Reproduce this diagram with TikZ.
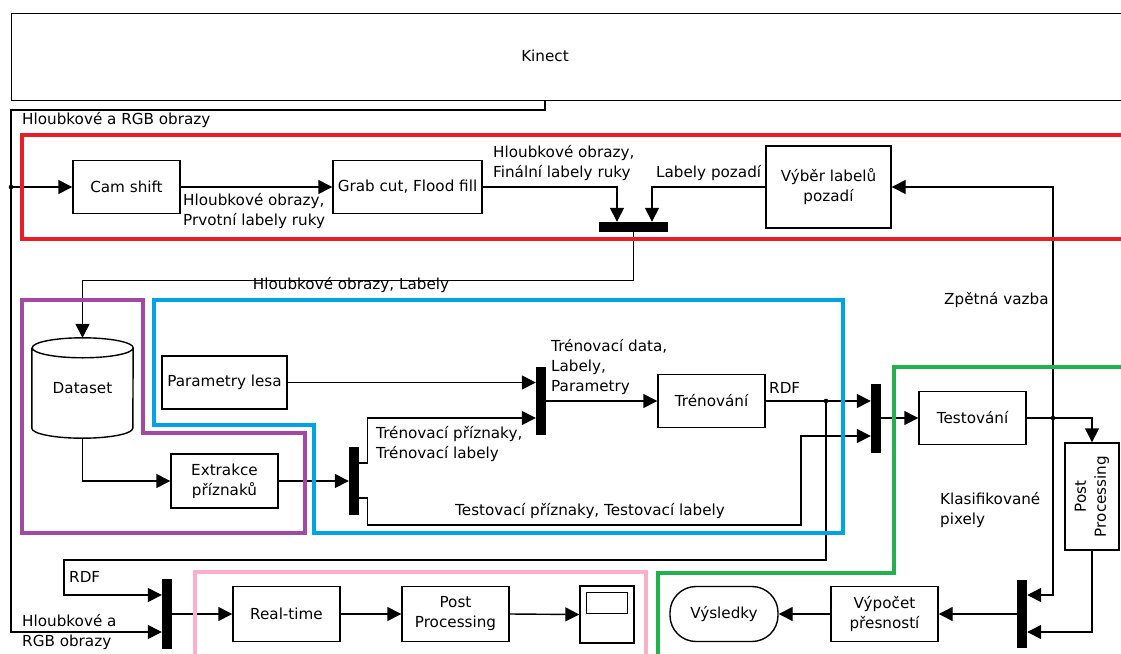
\documentclass[tikz,border=0pt]{standalone}
\usepackage{fontspec}
\setmainfont{DejaVu Sans}
\usetikzlibrary{arrows.meta}
\definecolor{cred}{RGB}{237,28,36}
\definecolor{cpurple}{RGB}{163,73,164}
\definecolor{cblue}{RGB}{0,162,232}
\definecolor{cgreen}{RGB}{34,177,76}
\definecolor{cpink}{RGB}{255,174,201}
\begin{document}
\begin{tikzpicture}[x=1pt,y=-1pt,
  every node/.style={font=\fontsize{15.2}{20}\selectfont, inner sep=0pt},
  box/.style={draw, line width=1.4pt, align=center},
  bar/.style={fill=black, inner sep=0pt},
  conn/.style={line width=1.4pt},
  arr/.style={-{Triangle[length=14pt,width=14pt]}},
  lbl/.style={anchor=west, align=left},
  frame/.style={line width=4pt}]
\useasboundingbox (0,0) rectangle (1121,653);

% ---------- nodes ----------
\node[box, minimum width=1124pt, minimum height=87pt, anchor=north west] (kinect) at (11,13) {};
\node (kinecttxt) at (545,56) {Kinect};
\coordinate (ktap) at (545,100);

\node[box, minimum width=107pt, minimum height=53pt] (camshift) at (126.5,187) {Cam shift};
\node[box, minimum width=149pt, minimum height=53pt] (grabcut) at (407.5,187) {Grab cut, Flood fill};
\node[box, minimum width=125pt, minimum height=82pt] (vyber) at (828.5,187) {Výběr labelů\\pozadí};
\node[bar, minimum width=69pt, minimum height=10pt] (barA) at (633.5,227) {};

\node[minimum width=101pt, minimum height=100pt] (dataset) at (82.5,388) {Dataset};
\node[box, minimum width=125pt, minimum height=53pt] (param) at (224.5,382.5) {Parametry lesa};
\node[bar, minimum width=10pt, minimum height=68pt] (bar1) at (541,401) {};
\node[box, minimum width=107pt, minimum height=53pt] (trenovani) at (711.5,401) {Trénování};
\node[bar, minimum width=10pt, minimum height=68pt] (bar2) at (354,481) {};
\node[box, minimum width=107pt, minimum height=54pt] (extrakce) at (224.5,481) {Extrakce\\příznaků};
\node[bar, minimum width=10pt, minimum height=69pt] (bar3) at (876,418) {};
\node[box, minimum width=107pt, minimum height=53pt] (testovani) at (972.5,418) {Testování};
\node[box, minimum width=54pt, minimum height=107pt] (postproc2) at (1092,496.5) {};
\node[rotate=90, align=center] (pptext) at (postproc2.center) {Post\\Processing};
\node[bar, minimum width=10pt, minimum height=68pt] (bar4) at (1022,614) {};
\node[box, minimum width=107pt, minimum height=55pt] (vypocet) at (884.5,614) {Výpočet\\přesností};
\node[box, rounded corners=26pt, minimum width=108pt, minimum height=55pt] (vysledky) at (724,614) {Výsledky};
\node[box, minimum width=54pt, minimum height=57pt] (scope) at (607,614.5) {};
\node[box, minimum width=107pt, minimum height=55pt] (postproc1) at (455.5,614) {Post\\Processing};
\node[box, minimum width=107pt, minimum height=55pt] (realtime) at (286.5,614) {Real-time};
\node[bar, minimum width=10pt, minimum height=70pt] (bar5) at (167,614) {};

% dataset cylinder
\draw[line width=1.4pt] ([yshift=-10pt]dataset.north west) -- ([yshift=10pt]dataset.south west)
  arc[start angle=180,end angle=360,x radius=50.5pt,y radius=10pt]
  -- ([yshift=-10pt]dataset.north east)
  arc[start angle=0,end angle=180,x radius=50.5pt,y radius=10pt]
  arc[start angle=180,end angle=360,x radius=50.5pt,y radius=10pt];
% scope screen
\draw[line width=1.4pt] ([shift={(7pt,-7pt)}]scope.north west) rectangle ([shift={(-7pt,-28pt)}]scope.north east);

% ---------- coordinates ----------
\coordinate (trunkbot) at (11,632);
\coordinate (jcam) at (11,187);
\coordinate (jfb) at (1053,418);
\coordinate (jrdf) at (826,401);
\coordinate (rdfcorner) at (64,560);
\coordinate (testcorner) at (801,525);

% ---------- connectors ----------
\draw[conn,arr] (ktap) -- (545,110) -| (trunkbot) -- (trunkbot -| bar5.west);
\fill (jcam) circle[radius=2.3pt];
\draw[conn,arr] (jcam) -- (camshift.west);
\draw[conn,arr] (camshift.east) -- (grabcut.west);
\draw[conn,arr] (grabcut.east) -| ([xshift=-16.5pt]barA.north);
\draw[conn,arr] (vyber.west) -| ([xshift=18.5pt]barA.north);
\draw[conn,arr] (barA.south) -- ++(0,48) -| (dataset.north);

\draw[conn,arr] (jfb) |- (vyber.east);
\draw[conn,arr] (jfb) |- ([yshift=19pt]bar4.east);
\draw[conn,arr] (testovani.east) -| (postproc2.north);
\fill (jfb) circle[radius=2.3pt];
\draw[conn,arr] (postproc2.south) |- ([yshift=-18pt]bar4.east);
\draw[conn,arr] (bar4.west) -- (vypocet.east);
\draw[conn,arr] (vypocet.west) -- (vysledky.east);

\draw[conn,arr] (dataset.south) |- (extrakce.west);
\draw[conn,arr] (extrakce.east) -- (bar2.west);
\draw[conn,arr] (param.east) -- (param.east -| bar1.west);
\draw[conn,arr] ([yshift=18pt]bar2.east) -- ++(8,0) |- ([yshift=-17pt]bar1.west);
\draw[conn,arr] ([yshift=-17pt]bar2.east) -- ++(8,0) |- (testcorner) |- ([yshift=-18pt]bar3.west);
\draw[conn,arr] (bar1.east |- trenovani.west) -- (trenovani.west);
\draw[conn,arr] (trenovani.east) -- (trenovani.east -| bar3.west);
\fill (jrdf) circle[radius=2.3pt];
\draw[conn,arr] (jrdf) |- (rdfcorner) |- ([yshift=19pt]bar5.west);
\draw[conn,arr] (bar3.east |- testovani.west) -- (testovani.west);

\draw[conn,arr] (bar5.east |- realtime.west) -- (realtime.west);
\draw[conn,arr] (realtime.east) -- (postproc1.west);
\draw[conn,arr] (postproc1.east) -- (scope.west);

% ---------- labels ----------
\node[lbl] (l1) at (22,120) {Hloubkové a RGB obrazy};
\node[lbl, anchor=north west] (l2) at (183,193) {Hloubkové obrazy,\\Prvotní labely ruky};
\node[lbl] (l3) at (493,163) {Hloubkové obrazy,\\Finální labely ruky};
\node[lbl] (l4) at (656,173) {Labely pozadí};
\node (l5) at (351,285) {Hloubkové obrazy, Labely};
\node[lbl] (l6) at (944,300) {Zpětná vazba};
\node[lbl] (l7) at (551,367) {Trénovací data,\\Labely,\\Parametry};
\node[lbl] (l8) at (376,444) {Trénovací příznaky,\\Trénovací labely};
\node[lbl] (l9) at (455,511) {Testovací příznaky, Testovací labely};
\node[lbl] (l10) at (769,388) {RDF};
\node[lbl] (l11) at (940,510) {Klasifikované\\pixely};
\node[lbl] (l12) at (69,577) {RDF};
\node[lbl] (l13) at (22,632) {Hloubkové a\\RGB obrazy};

% ---------- coloured frames ----------
\draw[frame, cred] (22,135) rectangle (1140,239);
\draw[frame, cpurple] (22,300) -- (143,300) -- (143,433) -- (305,433) -- (305,533) -- (22,533) -- cycle;
\draw[frame, cblue] (154,300) -- (843,300) -- (843,533) -- (314,533) -- (314,425) -- (154,425) -- cycle;
\draw[frame, cgreen] (1140,367) -- (894,367) -- (894,573) -- (658,573) -- (658,670);
\draw[frame, cpink] (195,670) -- (195,572) -- (646,572) -- (646,670);
\end{tikzpicture}
\end{document}
